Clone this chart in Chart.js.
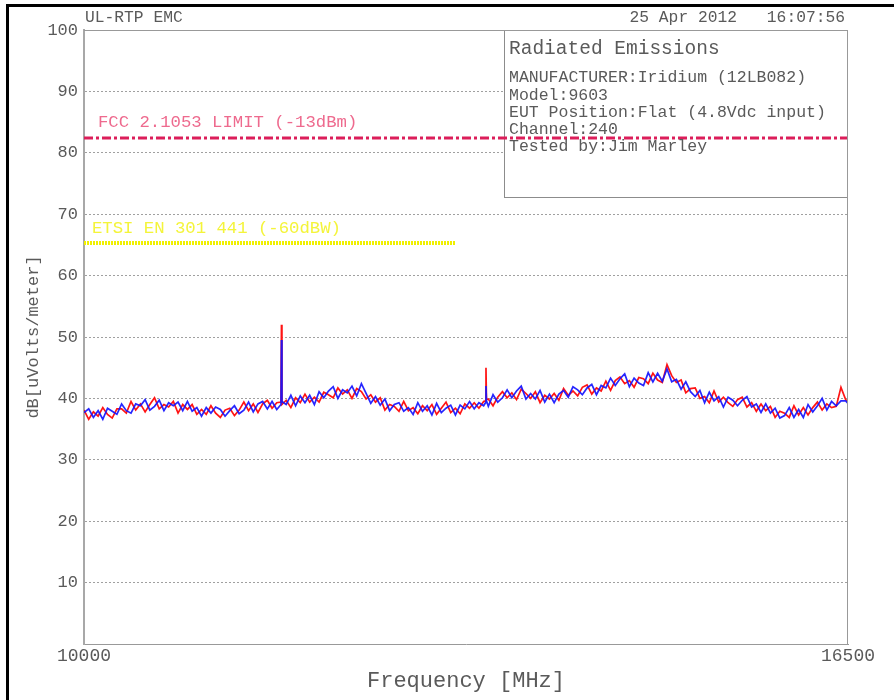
<!DOCTYPE html>
<html><head><meta charset="utf-8">
<script src="https://cdn.jsdelivr.net/npm/chart.js@4.4.1/dist/chart.umd.min.js"></script>
<style>html,body{margin:0;padding:0;background:#fff;}canvas{display:block;}</style>
</head><body>
<canvas id="c" width="894" height="700"></canvas>
<script>
// ---------- data ----------
const freqMHz = [
10000,10040,10080,10120,10160,10200,10240,10280,10320,10360,
10400,10440,10480,10520,10560,10600,10640,10680,10720,10760,
10800,10840,10880,10920,10960,11000,11040,11080,11120,11160,
11200,11240,11280,11320,11360,11400,11440,11480,11520,11560,
11600,11640,11676,11680,11684,11720,11760,11800,11840,11880,11920,11960,
12000,12040,12080,12120,12160,12200,12240,12280,12320,12360,
12400,12440,12480,12520,12560,12600,12640,12680,12720,12760,
12800,12840,12880,12920,12960,13000,13040,13080,13120,13160,
13200,13240,13280,13320,13360,13400,13416,13420,13424,13440,13480,13520,13560,
13600,13640,13680,13720,13760,13800,13840,13880,13920,13960,
14000,14040,14080,14120,14160,14200,14240,14280,14320,14360,
14400,14440,14480,14520,14560,14600,14640,14680,14720,14760,
14800,14840,14880,14920,14960,15000,15040,15080,15120,15160,
15200,15240,15280,15320,15360,15400,15440,15480,15520,15560,
15600,15640,15680,15720,15760,15800,15840,15880,15920,15960,
16000,16040,16080,16120,16160,16200,16240,16280,16320,16360,
16400,16440,16480,16500];

const redTrace = [
38.1,36.6,37.8,37.1,38.5,37.4,36.8,38.3,38.3,37.6,
39.5,38.1,39.1,37.8,39.0,40.1,38.3,39.0,38.6,39.5,
37.6,39.0,38.2,39.0,37.4,38.2,37.4,38.8,37.6,36.9,
38.1,38.4,37.2,38.1,39.4,38.0,39.1,37.7,39.1,39.7,
38.4,39.3,39.4,52.0,39.0,39.7,38.5,40.1,39.3,40.7,39.4,40.2,
39.4,41.0,40.6,40.1,41.7,40.7,41.4,40.0,41.6,41.1,
39.9,40.6,39.4,40.1,38.1,39.0,38.7,37.9,39.5,38.0,
38.5,37.5,38.8,38.0,39.0,37.4,38.4,39.4,37.7,38.4,
37.5,39.1,38.4,39.3,38.4,39.5,39.6,45.0,39.8,39.9,38.8,40.2,41.1,
40.1,40.9,39.8,41.5,40.8,40.0,41.1,39.3,40.5,39.9,
40.8,39.7,41.6,40.5,41.2,40.4,41.8,42.2,40.7,41.7,
41.2,42.8,41.3,42.9,43.5,42.4,42.9,41.8,43.4,43.2,
42.4,44.1,43.0,42.6,45.5,43.7,42.6,43.0,40.9,41.6,
41.7,40.0,40.3,39.3,41.2,39.4,40.2,39.3,38.7,39.8,
40.2,38.6,39.3,37.9,39.1,38.0,38.7,36.9,37.9,37.6,
36.9,38.8,37.3,38.5,37.3,38.5,39.4,38.1,39.1,38.5,
38.7,41.8,39.8,39.4];

const blueTrace = [
37.7,38.3,36.9,38.0,36.6,38.4,37.9,37.4,39.1,38.0,
37.6,39.1,38.8,39.8,38.1,38.7,39.7,38.0,39.3,38.8,
39.4,38.0,39.5,37.9,38.5,37.1,38.5,37.6,38.6,38.2,
37.1,38.0,38.8,37.5,38.1,39.4,37.8,39.1,39.5,38.3,
39.5,38.2,39.0,49.5,39.5,39.0,40.5,38.8,40.4,39.3,40.5,39.0,
41.1,40.1,41.2,41.9,40.0,41.4,40.9,42.0,40.4,42.4,
40.8,39.2,40.3,38.9,39.9,38.0,39.0,39.3,37.9,38.5,
37.4,39.3,37.9,38.8,37.3,39.2,37.7,38.4,38.9,37.3,
38.9,38.3,39.5,38.3,39.3,38.8,39.3,42.0,39.6,38.7,40.6,39.4,40.1,
41.4,40.1,41.2,42.0,39.9,40.8,39.9,41.3,39.4,40.7,
39.3,40.7,41.3,40.2,41.9,41.4,40.6,41.7,42.3,40.6,
42.1,41.7,43.3,42.1,43.2,44.0,41.9,43.3,42.5,42.1,
44.2,42.7,44.1,42.8,44.8,42.7,43.1,41.5,42.7,41.1,
40.3,41.3,39.3,41.0,39.6,40.3,38.6,40.2,39.7,38.8,
39.7,40.3,38.6,39.1,37.7,39.1,37.6,38.4,36.8,37.2,
38.5,36.9,38.2,36.9,39.0,37.8,38.8,40.0,38.1,39.5,
38.8,39.6,39.6,39.2];

const xTickValues = [10000, 16500];
const yMin = 0, yMax = 100, yStep = 10;

const limitLabels = ['FCC 2.1053 LIMIT (-13dBm)', 'ETSI EN 301 441 (-60dBW)'];
const limitLevels = [82.4, 65.3];
const limitStartMHz = [10000, 10000];
const limitEndMHz = [16500, 13160];

const headerLeft = 'UL-RTP EMC';
const headerDate = '25 Apr 2012';
const headerTime = '16:07:56';
const infoTitle = 'Radiated Emissions';
const infoLines = ['MANUFACTURER:Iridium (12LB082)', 'Model:9603', 'EUT Position:Flat (4.8Vdc input)', 'Channel:240', 'Tested by:Jim Marley'];
const xTitle = 'Frequency [MHz]';
const yTitle = 'dB[uVolts/meter]';

// ---------- layout / style ----------
const mono = "'Liberation Mono', 'DejaVu Sans Mono', monospace";
const textGrey = '#5a5a5a';
const infoBoxFromMHz = 13573;
const infoBoxBottomDb = 72.8;
const limitColors = ['#dc1e5a', '#f0f000'];
const limitLabelColors = ['#ee6a8e', '#f4f43a'];
const limitLabelPos = [{f: 10119, v: 85.0}, {f: 10068, v: 67.75}];

const toPts = ys => freqMHz.map((f, k) => ({x: f, y: ys[k]}));

const annot = {
  id: 'annot',
  beforeDraw(chart) {
    const {ctx, width, height} = chart;
    ctx.save();
    ctx.fillStyle = '#ffffff';
    ctx.fillRect(0, 0, width, height);
    ctx.fillStyle = '#000000';
    ctx.fillRect(6, 4, width - 6, 3);
    ctx.fillRect(6, 4, 3, height - 4);
    ctx.restore();
  },
  beforeDatasetsDraw(chart) {
    const {ctx, chartArea: a, scales: {x, y}} = chart;
    const bx = Math.round(x.getPixelForValue(infoBoxFromMHz));
    const by = Math.round(y.getPixelForValue(infoBoxBottomDb));
    ctx.save();
    ctx.fillStyle = '#ffffff';
    ctx.fillRect(bx, a.top, a.right - bx, by - a.top);
    ctx.strokeStyle = '#8c8c8c';
    ctx.lineWidth = 1;
    ctx.strokeRect(bx + 0.5, a.top + 0.5, a.right - bx - 1, by - a.top);
    ctx.restore();
  },
  afterDatasetsDraw(chart) {
    const {ctx, chartArea: a, scales: {x, y}} = chart;
    ctx.save();
    ctx.strokeStyle = '#999999';
    ctx.lineWidth = 1;
    ctx.beginPath();
    ctx.moveTo(a.left, a.top + 0.5); ctx.lineTo(a.right, a.top + 0.5);
    ctx.moveTo(a.right - 0.5, a.top); ctx.lineTo(a.right - 0.5, a.bottom);
    ctx.stroke();
    const bx = Math.round(x.getPixelForValue(infoBoxFromMHz));
    ctx.textBaseline = 'middle';
    ctx.textAlign = 'left';
    ctx.fillStyle = textGrey;
    ctx.font = '19.5px ' + mono;
    ctx.fillText(infoTitle, bx + 5, a.top + 19);
    ctx.font = '16.5px ' + mono;
    infoLines.forEach((t, k) => ctx.fillText(t, bx + 5, a.top + 48 + k * 17.2));
    ctx.font = '17.3px ' + mono;
    limitLabels.forEach((t, k) => {
      ctx.fillStyle = limitLabelColors[k];
      ctx.fillText(t, x.getPixelForValue(limitLabelPos[k].f), y.getPixelForValue(limitLabelPos[k].v));
    });
    ctx.restore();
  },
  afterDraw(chart) {
    const {ctx, chartArea: a} = chart;
    ctx.save();
    ctx.fillStyle = textGrey;
    ctx.textBaseline = 'middle';
    ctx.font = '16.3px ' + mono;
    ctx.textAlign = 'left';
    ctx.fillText(headerLeft, a.left + 1, 18);
    ctx.textAlign = 'right';
    ctx.fillText(headerDate, 737, 18);
    ctx.fillText(headerTime, a.right - 3, 18);
    ctx.restore();
  }
};

new Chart(document.getElementById('c'), {
  type: 'line',
  data: {
    datasets: [
      {label: limitLabels[0], data: [{x: limitStartMHz[0], y: limitLevels[0]}, {x: limitEndMHz[0], y: limitLevels[0]}],
       borderColor: limitColors[0], borderWidth: 3, borderDash: [9, 3, 3, 3], order: 0},
      {label: limitLabels[1], data: [{x: limitStartMHz[1], y: limitLevels[1]}, {x: limitEndMHz[1], y: limitLevels[1]}],
       borderColor: limitColors[1], borderWidth: 4, borderDash: [2, 1], order: 0},
      {label: 'Trace 2', data: toPts(blueTrace), borderColor: 'rgba(20,20,255,0.92)', borderWidth: 1.7, order: 1},
      {label: 'Trace 1', data: toPts(redTrace), borderColor: '#ff1414', borderWidth: 1.7, order: 2}
    ]
  },
  options: {
    responsive: false,
    animation: false,
    parsing: true,
    elements: {point: {radius: 0, hoverRadius: 0}, line: {tension: 0}},
    layout: {padding: {left: 10, right: 46, top: 30, bottom: 0}},
    plugins: {legend: {display: false}, tooltip: {enabled: false}, title: {display: false}},
    events: [],
    scales: {
      x: {
        type: 'linear', min: 10000, max: 16500,
        afterBuildTicks: s => { s.ticks = xTickValues.map(v => ({value: v})); },
        afterFit: s => { s.height = 56; },
        grid: {display: false, drawTicks: false},
        border: {display: true, color: '#999999', width: 1},
        ticks: {autoSkip: false, maxRotation: 0, padding: 1, color: textGrey,
                font: {family: mono, size: 18}, callback: v => String(v)},
        title: {display: true, text: xTitle, color: textGrey, font: {family: mono, size: 22}, padding: {top: 0, bottom: 6}}
      },
      y: {
        min: yMin, max: yMax,
        afterFit: s => { s.width = 74; },
        grid: {drawTicks: false, lineWidth: 1,
               color: c => (c.tick && (c.tick.value === yMin || c.tick.value === yMax)) ? 'rgba(0,0,0,0)' : '#a0a0a0'},
        border: {display: true, color: '#a8a8a8', width: 2, dash: [2, 2]},
        ticks: {stepSize: yStep, padding: 6, color: textGrey, font: {family: mono, size: 17},
                callback: v => v === yMin ? '' : String(v)},
        title: {display: true, text: yTitle, color: textGrey, font: {family: mono, size: 17}, padding: {top: 13, bottom: 0}}
      }
    }
  },
  plugins: [annot]
});
</script>
</body></html>
